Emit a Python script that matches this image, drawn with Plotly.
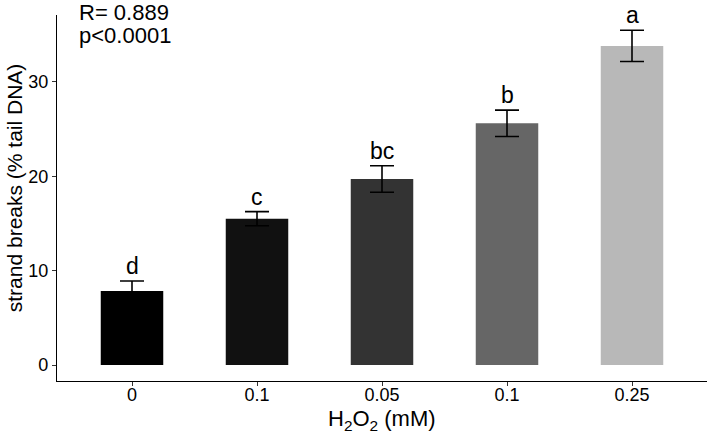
import plotly.graph_objects as go

# Data
categories = ["0", "0.1", "0.05", "0.1", "0.25"]
means = [7.85, 15.5, 19.7, 25.6, 33.8]
errors = [1.05, 0.75, 1.4, 1.4, 1.65]
letters = ["d", "c", "bc", "b", "a"]
colors = ["#000000", "#111111", "#333333", "#666666", "#b8b8b8"]
y_ticks = [0, 10, 20, 30]

FONT = "Arial, Liberation Sans, sans-serif"
positions = list(range(len(categories)))

fig = go.Figure()
fig.add_trace(go.Bar(
    x=positions,
    y=means,
    width=0.5,
    marker=dict(color=colors, line=dict(width=0)),
    error_y=dict(type="data", array=errors, visible=True,
                 color="#000000", thickness=1.6, width=12),
    showlegend=False,
    hoverinfo="skip",
))

for i, (m, e, lab) in enumerate(zip(means, errors, letters)):
    fig.add_annotation(x=positions[i], y=m + e, xref="x", yref="y",
                       text=lab, showarrow=False, yanchor="bottom",
                       yshift=0, font=dict(family=FONT, size=23, color="#000000"))

fig.add_annotation(x=0.032, y=1.008, xref="paper", yref="paper",
                   text="R= 0.889", showarrow=False, xanchor="left", yanchor="middle",
                   borderpad=0,
                   font=dict(family=FONT, size=22, color="#000000"))
fig.add_annotation(x=0.032, y=0.945, xref="paper", yref="paper",
                   text="p&lt;0.0001", showarrow=False, xanchor="left", yanchor="middle",
                   borderpad=0,
                   font=dict(family=FONT, size=22, color="#000000"))

# axis titles
fig.add_annotation(x=-0.066, y=0.527, xref="paper", yref="paper",
                   text="strand breaks (% tail DNA)", showarrow=False, textangle=-90,
                   xanchor="center", yanchor="middle",
                   font=dict(family=FONT, size=21, color="#000000"))
fig.add_annotation(x=0.5, y=-0.106, xref="paper", yref="paper",
                   text="H<sub>2</sub>O<sub>2</sub> (mM)", showarrow=False,
                   xanchor="center", yanchor="middle",
                   font=dict(family=FONT, size=22, color="#000000"))

fig.update_layout(
    width=708, height=437,
    margin=dict(l=57, r=1, t=15, b=56),
    paper_bgcolor="white", plot_bgcolor="white",
    font=dict(family=FONT, color="#000000"),
    xaxis=dict(range=[-0.6, 4.6], tickmode="array", tickvals=positions,
               ticktext=categories, showgrid=False, zeroline=False,
               showline=True, linecolor="#000000", linewidth=1.2,
               ticks="outside", ticklen=4, tickcolor="#333333", tickwidth=1.1,
               ticklabelstandoff=-7,
               tickfont=dict(family=FONT, size=18, color="#000000")),
    yaxis=dict(range=[-1.69, 37.07], tickmode="array", tickvals=y_ticks,
               showgrid=False, zeroline=False,
               showline=True, linecolor="#000000", linewidth=1.2,
               ticks="outside", ticklen=4, tickcolor="#333333", tickwidth=1.1,
               tickfont=dict(family=FONT, size=18, color="#000000")),
)

fig.write_html("out.html",
               config={"displayModeBar": False},
               post_script="document.body.style.margin='0';document.body.style.padding='0';")
